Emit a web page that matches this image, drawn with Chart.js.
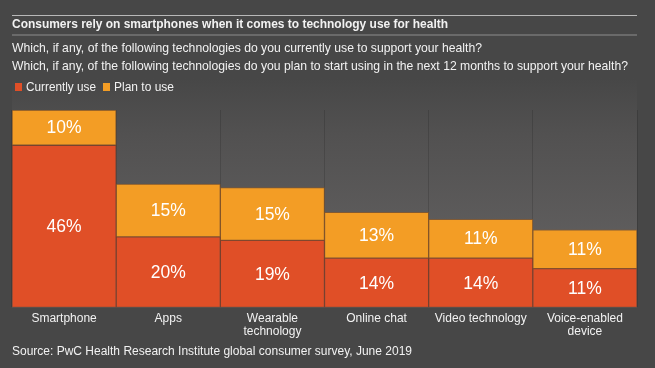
<!DOCTYPE html>
<html>
<head>
<meta charset="utf-8">
<script src="https://cdn.jsdelivr.net/npm/chart.js@4/dist/chart.umd.min.js"></script>
<style>
html,body{margin:0;padding:0;background:#474747;}
#wrap{width:655px;height:368px;}
</style>
</head>
<body>
<div id="wrap"><canvas id="healthChart" width="655" height="368"></canvas></div>
<script>
const categories = ["Smartphone", "Apps", ["Wearable", "technology"], "Online chat", "Video technology", ["Voice-enabled", "device"]];
const currentlyUse = [46, 20, 19, 14, 14, 11];
const planToUse = [10, 15, 15, 13, 11, 11];
const seriesNames = ["Currently use", "Plan to use"];
const yMax = 56;

const titleText = "Consumers rely on smartphones when it comes to technology use for health";
const questionLines = [
    "Which, if any, of the following technologies do you currently use to support your health?",
    "Which, if any, of the following technologies do you plan to start using in the next 12 months to support your health?"
];
const sourceText = "Source: PwC Health Research Institute global consumer survey, June 2019";

const RED = "#e04f27";
const ORANGE = "#f39d25";
const FONT = "'Liberation Sans', Arial, sans-serif";

// draw text squeezed/stretched to a given width
function fillFit(ctx, text, x, y, width) {
    const w = ctx.measureText(text).width;
    ctx.save();
    ctx.translate(x, y);
    ctx.scale(width / w, 1);
    ctx.fillText(text, 0, 0);
    ctx.restore();
}

const backdrop = {
    id: "backdrop",
    beforeDraw(chart) {
        const ctx = chart.ctx;
        const area = chart.chartArea;
        ctx.save();
        ctx.fillStyle = "#474747";
        ctx.fillRect(0, 0, chart.width, chart.height);
        const g = ctx.createLinearGradient(0, 78, 0, area.bottom);
        g.addColorStop(0, "#474747");
        g.addColorStop(0.25, "#525151");
        g.addColorStop(1, "#676565");
        ctx.fillStyle = g;
        ctx.fillRect(area.left, 78, area.right - area.left, area.bottom - 78);
        ctx.restore();
    }
};

const decorations = {
    id: "decorations",
    afterDraw(chart) {
        const ctx = chart.ctx;
        ctx.save();
        // rules around title
        ctx.fillStyle = "#b8b8b8";
        ctx.fillRect(12, 15, 625, 1);
        ctx.fillStyle = "#6a6a6a";
        ctx.fillRect(12, 34, 625, 2);

        ctx.fillStyle = "#f2f2f2";
        ctx.textBaseline = "middle";
        ctx.font = "bold 12px " + FONT;
        fillFit(ctx, titleText, 12, 25, 436);
        ctx.font = "13px " + FONT;
        fillFit(ctx, questionLines[0], 12, 48, 470);
        fillFit(ctx, questionLines[1], 12, 66, 616);

        // legend
        const legendItems = [
            { name: seriesNames[0], color: chart.data.datasets[0].backgroundColor, x: 15, w: 70 },
            { name: seriesNames[1], color: chart.data.datasets[1].backgroundColor, x: 103, w: 60 }
        ];
        ctx.font = "12.5px " + FONT;
        legendItems.forEach(item => {
            ctx.fillStyle = item.color;
            ctx.fillRect(item.x, 83, 7, 8);
            ctx.fillStyle = "#f2f2f2";
            fillFit(ctx, item.name, item.x + 11, 87.5, item.w);
        });

        // value labels
        ctx.font = "17.5px " + FONT;
        ctx.textAlign = "center";
        ctx.fillStyle = "#ffffff";
        chart.data.datasets.forEach((ds, i) => {
            chart.getDatasetMeta(i).data.forEach((bar, j) => {
                ctx.fillText(ds.data[j] + "%", bar.x, (bar.y + bar.base) / 2 + 1);
            });
        });

        // source
        ctx.textAlign = "left";
        ctx.font = "12px " + FONT;
        ctx.fillStyle = "#f2f2f2";
        ctx.fillText(sourceText, 12, 352);
        ctx.restore();
    }
};

const ctx = document.getElementById("healthChart").getContext("2d");
const healthChart = new Chart(ctx, {
    type: "bar",
    data: {
        labels: categories,
        datasets: [{
            label: seriesNames[0],
            data: currentlyUse,
            backgroundColor: RED,
            borderColor: "rgba(140,55,25,0.55)",
            borderWidth: 1,
            borderSkipped: false
        }, {
            label: seriesNames[1],
            data: planToUse,
            backgroundColor: ORANGE,
            borderColor: "rgba(160,90,20,0.55)",
            borderWidth: 1,
            borderSkipped: false
        }]
    },
    options: {
        responsive: false,
        animation: false,
        devicePixelRatio: 1,
        layout: { padding: { left: 12, right: 18, top: 110, bottom: 25 } },
        datasets: { bar: { categoryPercentage: 1, barPercentage: 1 } },
        scales: {
            x: {
                stacked: true,
                offset: true,
                grid: { offset: true, color: "rgba(0,0,0,0.14)", drawTicks: false },
                border: { display: false },
                ticks: {
                    color: "#f2f2f2",
                    padding: 4,
                    maxRotation: 0,
                    autoSkip: false,
                    font: { family: FONT, size: 12, lineHeight: 1.15 }
                }
            },
            y: {
                stacked: true,
                display: false,
                min: 0,
                max: yMax
            }
        },
        plugins: {
            legend: { display: false },
            tooltip: { enabled: false }
        }
    },
    plugins: [backdrop, decorations]
});
</script>
</body>
</html>
